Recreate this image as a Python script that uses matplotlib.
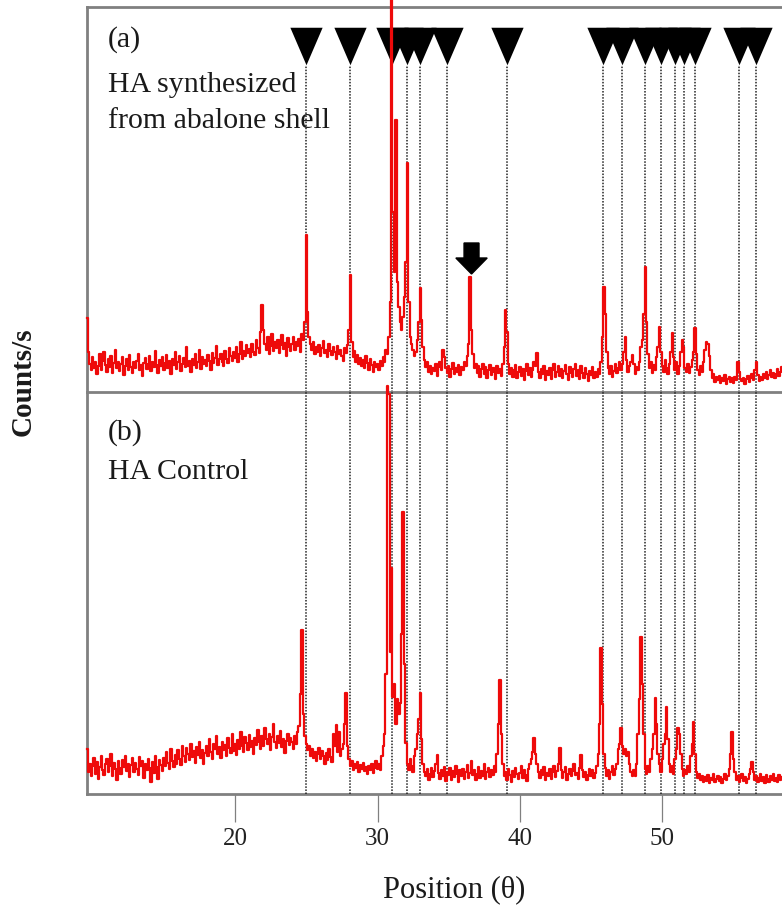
import numpy as np
import matplotlib
matplotlib.use("Agg")
import matplotlib.pyplot as plt
from matplotlib.patches import FancyArrow

# ---------------- data ----------------
two_theta = np.round(np.arange(9.6, 58.45, 0.1), 1)

counts_a = [
    74, 40, 28, 22,
    35, 24, 30, 18, 26, 38, 22, 31, 40, 27,
    20, 33, 25, 36, 19, 29, 42, 24, 30, 21,
    28, 35, 17, 26, 33, 22, 37, 25, 19, 30,
    24, 31, 38, 22, 27, 16, 29, 34, 23, 28,
    36, 21, 30, 25, 41, 27, 19, 32, 26, 35,
    22, 29, 37, 24, 31, 18, 33, 27, 40, 23,
    30, 36, 21, 28, 34, 25, 45, 26, 31, 20,
    33, 27, 38, 24, 30, 42, 23, 35, 28, 32,
    26, 37, 31, 22, 39, 29, 34, 46, 27, 33,
    38, 30, 26, 41, 33, 29, 44, 36, 31, 40,
    34, 45, 30, 38, 50, 33, 41, 36, 47, 39,
    43, 35, 48, 40, 37, 52, 44, 39, 60, 87,
    62, 48, 42, 55, 38, 46, 58, 41, 50, 44,
    52, 39, 47, 57, 43, 49, 36, 54, 45, 41,
    48, 55, 42, 50, 46, 53, 40, 58, 52, 70,
    157, 80, 55, 48, 42, 50, 38, 45, 40, 47,
    36, 44, 51, 39, 42, 35, 48, 41, 37, 45,
    40, 33, 46, 38, 42, 36, 31, 44, 39, 47,
    62, 117, 50, 35, 41, 30, 37, 28, 34, 26,
    32, 24, 36, 29, 22, 33, 27, 20, 30, 25,
    28, 22, 31, 26, 35, 30, 42, 38, 55, 90,
    430, 180, 120, 272, 110, 85, 70, 62, 75, 95,
    130, 229, 90, 55, 48, 42, 36, 40, 52, 70,
    104, 72, 45, 32, 25, 30, 20, 26, 18, 24,
    21, 28, 16, 25, 30, 22, 42, 35, 24, 19,
    26, 15, 23, 29, 18, 24, 20, 27, 17, 25,
    22, 30, 26, 36, 48, 115, 62, 38, 24, 28,
    19, 26, 15, 23, 28, 18, 25, 14, 22, 27,
    17, 24, 20, 13, 26, 19, 23, 16, 28, 45,
    82, 60, 28, 18, 24, 15, 22, 27, 14, 20,
    25, 16, 23, 12, 21, 28, 17, 24, 15, 22,
    30, 26, 39, 20, 14, 23, 18, 26, 12, 21,
    17, 24, 13, 22, 28, 15, 20, 26, 16, 23,
    14, 21, 27, 18, 12, 25, 19, 15, 23, 28,
    16, 22, 13, 26, 19, 14, 24, 18, 11, 21,
    17, 25, 14, 20, 15, 23, 18, 30, 55, 105,
    78, 40, 24, 18, 26, 15, 21, 28, 19, 24,
    30, 22, 28, 40, 55, 32, 20, 26, 30, 37,
    28, 18, 25, 22, 30, 45, 52, 78, 125, 70,
    38, 24, 30, 19, 27, 22, 35, 45, 65, 40,
    26, 20, 32, 24, 18, 28, 40, 59, 35, 22,
    30, 18, 26, 40, 52, 45, 24, 20, 28, 19,
    25, 32, 40, 64, 38, 22, 17, 26, 20, 30,
    42, 50, 48, 36, 22, 14, 18, 10, 15, 12,
    16, 9, 14, 11, 17, 8, 13, 15, 10, 14,
    9, 15, 12, 30, 20, 13, 11, 14, 8, 13,
    16, 10, 14, 18, 12, 22, 30, 17, 11, 15,
    12, 18, 14, 20, 13, 17, 22, 15, 19, 14,
    18, 23, 16, 20, 25,
]

counts_b = [
    45, 22, 30, 18,
    28, 36, 20, 32, 15, 27, 38, 24, 19, 30,
    35, 22, 28, 40, 18, 31, 25, 14, 33, 26,
    20, 34, 27, 38, 23, 30, 17, 29, 36, 22,
    31, 25, 19, 37, 28, 33, 16, 30, 24, 35,
    26, 12, 32, 21, 38, 27, 15, 34, 29, 23,
    36, 28, 42, 31, 25, 45, 33, 27, 39, 30,
    44, 35, 29, 48, 38, 32, 46, 40, 34, 50,
    37, 43, 31, 47, 39, 52, 36, 44, 30, 41,
    48, 38, 55, 42, 35, 50, 45, 58, 40, 47,
    36, 52, 44, 49, 38, 56, 46, 41, 60, 43,
    50, 39, 54, 45, 62, 48, 42, 57, 51, 44,
    59, 47, 53, 40, 56, 49, 64, 52, 45, 58,
    48, 66, 55, 50, 60, 44, 57, 70, 52, 46,
    58, 51, 63, 47, 55, 41, 53, 60, 49, 56,
    52, 45, 58, 50, 62, 68, 100, 164, 80, 58,
    50, 44, 48, 38, 45, 36, 42, 33, 40, 46,
    35, 43, 38, 30, 41, 34, 45, 37, 32, 60,
    48, 69, 42, 62, 38, 45, 50, 70, 101, 48,
    35, 28, 33, 24, 30, 26, 32, 22, 29, 25,
    31, 23, 27, 20, 28, 24, 30, 21, 26, 33,
    25, 30, 24, 38, 48, 60, 120, 408, 400, 142,
    226, 97, 110, 70, 95, 80, 91, 160, 282, 130,
    51, 30, 24, 35, 28, 22, 38, 45, 60, 75,
    101, 55, 30, 22, 18, 25, 14, 20, 26, 17,
    23, 30, 39, 21, 15, 24, 18, 27, 13, 22,
    19, 26, 14, 23, 17, 28, 20, 12, 24, 18,
    25, 15, 22, 29, 16, 21, 33, 19, 24, 14,
    20, 27, 16, 23, 18, 30, 15, 22, 26, 17,
    24, 19, 28, 22, 40, 70, 114, 60, 30, 18,
    22, 14, 25, 19, 12, 23, 17, 26, 20, 15,
    21, 28, 16, 24, 19, 13, 25, 30, 35, 42,
    56, 40, 30, 22, 16, 24, 19, 27, 14, 21,
    18, 25, 15, 22, 28, 17, 23, 30, 46, 24,
    16, 22, 27, 14, 20, 25, 18, 23, 30, 19,
    21, 15, 26, 39, 24, 17, 22, 14, 19, 25,
    18, 24, 16, 21, 28, 40, 70, 146, 90, 40,
    26, 18, 24, 15, 22, 28, 19, 25, 30, 45,
    50, 66, 48, 40, 45, 38, 42, 30, 22, 18,
    24, 18, 30, 60, 95, 157, 110, 60, 25, 20,
    28, 22, 35, 45, 60, 96, 70, 40, 30, 22,
    35, 50, 60, 87, 55, 30, 22, 28, 20, 35,
    45, 66, 60, 40, 25, 18, 24, 20, 28, 22,
    38, 50, 72, 40, 22, 16, 20, 14, 18, 12,
    17, 13, 19, 11, 16, 14, 20, 12, 15, 18,
    13, 17, 11, 15, 20, 14, 18, 25, 40, 62,
    35, 22, 14, 18, 12, 16, 20, 13, 17, 11,
    15, 20, 25, 32, 22, 14, 18, 12, 16, 20,
    13, 17, 11, 19, 15, 12, 18, 14, 20, 13,
    16, 12, 19, 14, 17,
]

ref_lines = [25.0, 28.1, 31.0, 32.1, 33.0, 34.9, 39.1, 45.8, 47.2, 48.8,
             49.9, 50.9, 51.5, 52.3, 55.4, 56.6]
arrow_peak = 36.6
xticks = [20, 30, 40, 50]
panel_a_label = ["(a)", "HA synthesized", "from abalone shell"]
panel_b_label = ["(b)", "HA Control"]

assert len(counts_a) == len(two_theta) and len(counts_b) == len(two_theta)

# ---------------- style ----------------
plt.rcParams["font.family"] = ["Liberation Serif", "DejaVu Serif"]
W, H = 782, 911
fig = plt.figure(figsize=(W / 100, H / 100), dpi=100)

def frac(x0, y0, x1, y1):
    return [x0 / W, 1 - y1 / H, (x1 - x0) / W, (y1 - y0) / H]

axA = fig.add_axes(frac(87, 7, 782, 392))
axB = fig.add_axes(frac(87, 392, 782, 794))

RED = "#ee0a0a"
SPINE = "#808080"
LINE_C = "#222222"
xlim = (9.6, 58.4)

for ax, y, top in ((axA, counts_a, 385), (axB, counts_b, 402)):
    ax.set_xlim(*xlim)
    ax.set_ylim(0, top)
    ax.plot(two_theta, y, color=RED, lw=1.6, drawstyle="steps-mid",
            clip_on=False, zorder=4)
    ax.set_yticks([])
    ax.spines["right"].set_visible(False)
    for s in ("left", "top", "bottom"):
        ax.spines[s].set_color(SPINE)
        ax.spines[s].set_linewidth(2.0)

axA.spines["bottom"].set_visible(False)
axA.set_xticks([])

# dotted reference lines
tri_tip = 327
axA.vlines(ref_lines, 0, tri_tip, colors=LINE_C, linestyles=(0, (1, 1)),
           lw=1.1, zorder=3)
for xv in ref_lines:
    axB.axvline(xv, color=LINE_C, ls=(0, (1, 1)), lw=1.1, zorder=3)

# triangles
tri = [(-0.43, 0.5), (0.43, 0.5), (0.0, -0.5)]
axA.plot(ref_lines, [tri_tip + 18.5] * len(ref_lines), ls="none",
         marker=tri, markersize=27, color="black", mew=0, zorder=3.5,
         clip_on=False)

# arrow over the 36.6 peak
axA.add_patch(FancyArrow(arrow_peak, 149, 0, -31, width=1.05, head_width=2.2,
                         head_length=16, length_includes_head=True,
                         color="black", zorder=5))

# ticks
axB.set_xticks(xticks)
axB.set_xticklabels([str(t) for t in xticks])
axB.tick_params(axis="x", direction="out", length=20, width=0.9,
                color=SPINE, pad=4.5, labelsize=18, labelcolor="#222222")

# panel labels
TXT = "#1a1a1a"
fig.text(108 / W, 1 - 47 / H, panel_a_label[0], fontsize=21.5, color=TXT, va="baseline")
fig.text(108 / W, 1 - 92 / H, panel_a_label[1], fontsize=21.5, color=TXT, va="baseline")
fig.text(108 / W, 1 - 128 / H, panel_a_label[2], fontsize=21.5, color=TXT, va="baseline")
fig.text(108 / W, 1 - 440 / H, panel_b_label[0], fontsize=21.5, color=TXT, va="baseline")
fig.text(108 / W, 1 - 479 / H, panel_b_label[1], fontsize=21.5, color=TXT, va="baseline")

# axis labels
fig.text(454 / W, 1 - 890 / H, "Position (θ)", fontsize=22, color=TXT,
         ha="center", va="center")
fig.text(23 / W, 1 - 382 / H, "Counts/s", fontsize=21, fontweight="bold",
         color=TXT, rotation=90, ha="center", va="center")

fig.savefig("out.png", dpi=100)
